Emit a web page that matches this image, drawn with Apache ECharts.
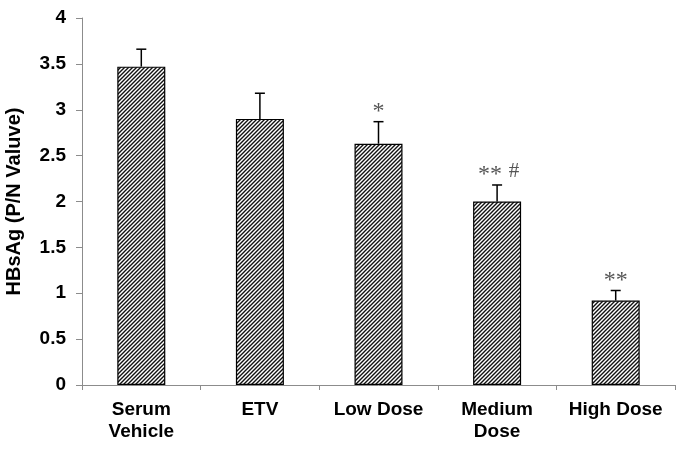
<!DOCTYPE html>
<html><head><meta charset="utf-8">
<script src="https://cdn.jsdelivr.net/npm/echarts@6/dist/echarts.min.js"></script>
<style>html,body{margin:0;padding:0;background:#fff}#c{width:685px;height:451px}</style>
</head><body><div id="c"></div>
<script>
const categories = ["Serum\nVehicle", "ETV", "Low Dose", "Medium\nDose", "High Dose"];
const means = [3.47, 2.90, 2.63, 2.00, 0.92];
const errTops = [3.66, 3.18, 2.87, 2.18, 1.03];
const stars = ["", "", "*", "**", "**"];
const hashes = ["", "", "", "#", ""];
const yTicks = { min: 0, max: 4, interval: 0.5 };

function makePattern() {
  const c = document.createElement('canvas');
  const s = 4;
  c.width = s; c.height = s;
  const g = c.getContext('2d');
  g.fillStyle = '#fff'; g.fillRect(0, 0, s, s);
  g.strokeStyle = '#111'; g.lineWidth = 1.4;
  g.beginPath();
  g.moveTo(-1, s + 1); g.lineTo(s + 1, -1);
  g.moveTo(-1, 1); g.lineTo(1, -1);
  g.moveTo(s - 1, s + 1); g.lineTo(s + 1, s - 1);
  g.stroke();
  return c;
}

const chart = echarts.init(document.getElementById('c'));
chart.setOption({
  animation: false,
  grid: { left: 82, right: 10, top: 18, bottom: 66, containLabel: false, outerBoundsMode: 'none' },
  xAxis: {
    type: 'category', data: categories,
    axisLine: { lineStyle: { color: '#8c8c8c', width: 1 } },
    axisTick: { show: true, length: 5, lineStyle: { color: '#8c8c8c' } },
    axisLabel: { color: '#000', fontFamily: 'Liberation Sans', fontWeight: 'bold', fontSize: 19, lineHeight: 22, margin: 14, interval: 0 }
  },
  yAxis: {
    type: 'value', min: yTicks.min, max: yTicks.max, interval: yTicks.interval,
    name: 'HBsAg (P/N Valuve)', nameLocation: 'middle', nameGap: 58, nameRotate: 90,
    nameTextStyle: { color: '#000', fontFamily: 'Liberation Sans', fontWeight: 'bold', fontSize: 20 },
    axisLine: { show: true, lineStyle: { color: '#8c8c8c', width: 1 } },
    axisTick: { show: true, length: 6, lineStyle: { color: '#8c8c8c' } },
    splitLine: { show: false },
    axisLabel: { color: '#000', fontFamily: 'Liberation Sans', fontWeight: 'bold', fontSize: 19, margin: 16 }
  },
  series: [
    {
      type: 'bar', data: means, barWidth: 48,
      itemStyle: { color: { image: makePattern(), repeat: 'repeat' }, borderColor: '#000', borderWidth: 1.2 }
    },
    {
      type: 'custom',
      data: means.map((m, i) => [i, m, errTops[i]]),
      renderItem: function (params, api) {
        const i = api.value(0);
        const p0 = api.coord([i, api.value(1)]);
        const p1 = api.coord([i, api.value(2)]);
        const cw = 10;
        const children = [
          { type: 'line', shape: { x1: p0[0], y1: p0[1], x2: p1[0], y2: p1[1] }, style: { stroke: '#000', lineWidth: 1.5 } },
          { type: 'line', shape: { x1: p1[0] - cw / 2, y1: p1[1], x2: p1[0] + cw / 2, y2: p1[1] }, style: { stroke: '#000', lineWidth: 1.5 } }
        ];
        const s = stars[params.dataIndex];
        const h = hashes[params.dataIndex];
        if (s) {
          children.push({ type: 'text', x: p1[0] + (h ? -7 : 0), y: p1[1] + 2, style: { text: s, fill: '#555', font: '24px "Liberation Serif"', align: 'center', verticalAlign: 'bottom' } });
        }
        if (h) {
          children.push({ type: 'text', x: p1[0] + 17, y: p1[1] - 14, style: { text: h, fill: '#555', font: '21px "Liberation Serif"', align: 'center', verticalAlign: 'middle' } });
        }
        return { type: 'group', children: children };
      },
      z: 5
    }
  ]
});
</script></body></html>
